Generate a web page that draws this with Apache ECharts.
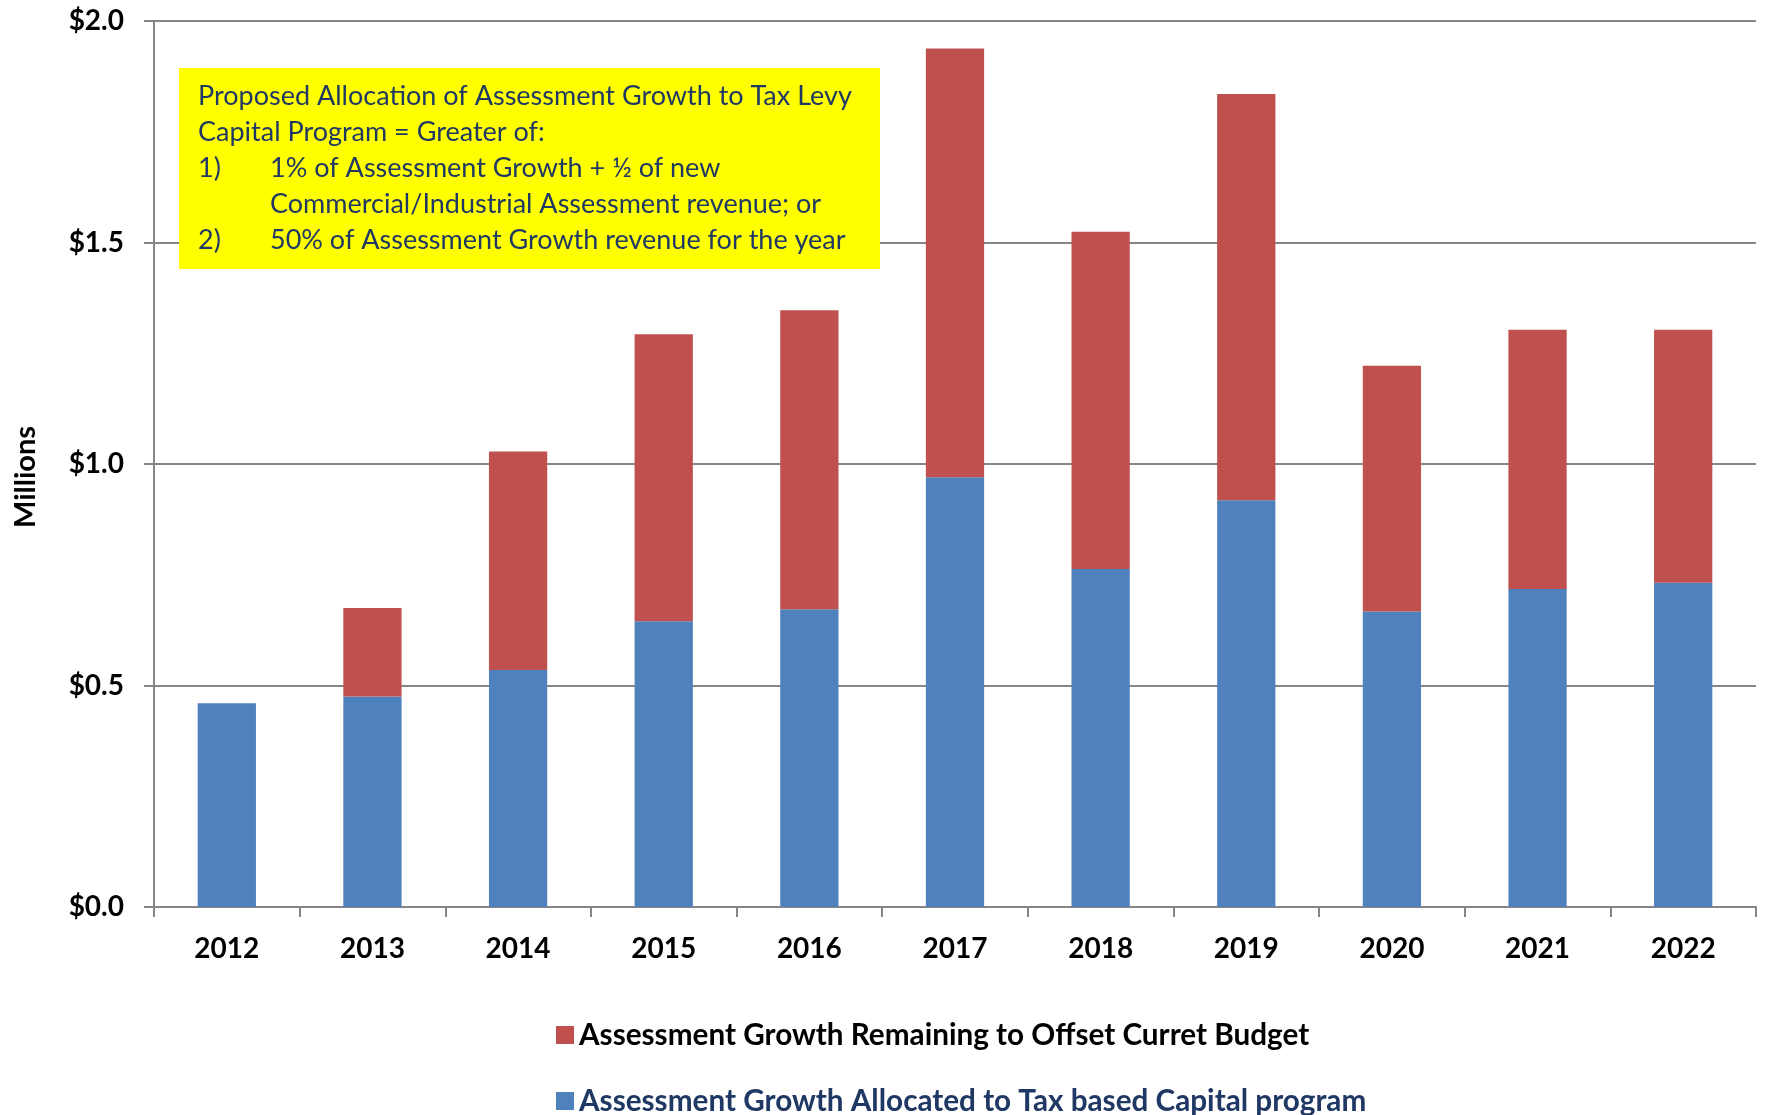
<!DOCTYPE html>
<html>
<head>
<meta charset="utf-8">
<title>Assessment Growth Allocation</title>
<script src="https://cdn.jsdelivr.net/npm/echarts@6/dist/echarts.min.js"></script>
<style>
  html, body { margin: 0; padding: 0; background: #ffffff; }
  #chart { width: 1767px; height: 1115px; }
</style>
</head>
<body>
<div id="chart"></div>
<script>
// Budget years on the category axis
const years = ['2012', '2013', '2014', '2015', '2016', '2017', '2018', '2019', '2020', '2021', '2022'];

// Assessment growth allocated to the tax-based capital program ($ millions)
const allocatedToCapital = [0.46, 0.475, 0.535, 0.645, 0.672, 0.97, 0.763, 0.918, 0.667, 0.718, 0.732];

// Assessment growth remaining to offset the current budget ($ millions)
const remainingToBudget = [0, 0.2, 0.493, 0.648, 0.675, 0.968, 0.761, 0.917, 0.555, 0.585, 0.571];

// Value-axis tick labels, from 0 to 2 in steps of 0.5
const yTickLabels = ['$0.0', '$0.5', '$1.0', '$1.5', '$2.0'];

// Series names as shown in the legend
const nameRemaining = 'Assessment Growth Remaining to Offset Curret Budget';
const nameAllocated = 'Assessment Growth Allocated to Tax based Capital program';

// Policy note shown in the highlighted box
const noteLines = [
  ['Proposed Allocation of Assessment Growth to Tax Levy', ''],
  ['Capital Program = Greater of:', ''],
  ['1)', '1% of Assessment Growth + \u00BD of new'],
  ['', 'Commercial/Industrial Assessment revenue; or'],
  ['2)', '50% of Assessment Growth revenue for the year']
];

const FONT = 'Lato, "Open Sans", sans-serif';
const AXIS_GREY = '#868686';
const NAVY = '#1F3864';

const chart = echarts.init(document.getElementById('chart'), null, { renderer: 'canvas' });

// Annotation box: yellow panel with the note text
const noteGraphics = [{
  type: 'rect',
  shape: { x: 179, y: 68, width: 701, height: 201 },
  style: { fill: '#FFFF00' },
  z: 10
}];
noteLines.forEach(function (line, i) {
  const y = 96 + i * 36;
  if (line[0]) {
    noteGraphics.push({
      type: 'text', x: 198, y: y, z: 11,
      style: { text: line[0], font: '27px ' + FONT, fill: NAVY, textVerticalAlign: 'middle' }
    });
  }
  if (line[1]) {
    noteGraphics.push({
      type: 'text', x: 270, y: y, z: 11,
      style: { text: line[1], font: '27px ' + FONT, fill: NAVY, textVerticalAlign: 'middle' }
    });
  }
});

// One legend block per row, stacked under the plot
function legendRow(name, color, top) {
  return {
    orient: 'horizontal',
    left: 551,
    top: top,
    itemWidth: 18,
    itemHeight: 18,
    icon: 'rect',
    selectedMode: false,
    textStyle: { fontFamily: FONT, fontWeight: 'bold', fontSize: 29.7, lineHeight: 30, color: color },
    data: [name]
  };
}

chart.setOption({
  animation: false,
  backgroundColor: '#ffffff',
  grid: { left: 154, right: 11, top: 21, bottom: 208, containLabel: false, outerBoundsMode: 'none' },
  legend: [
    legendRow(nameRemaining, '#000000', 1015),
    legendRow(nameAllocated, NAVY, 1081)
  ],
  xAxis: {
    type: 'category',
    data: years,
    axisLine: { lineStyle: { color: AXIS_GREY, width: 2 } },
    axisTick: { show: true, length: 10, inside: false, alignWithLabel: false, lineStyle: { color: AXIS_GREY, width: 2 } },
    axisLabel: { margin: 28, fontFamily: FONT, fontWeight: 'bold', fontSize: 28, color: '#000000' },
    splitLine: { show: false }
  },
  yAxis: {
    type: 'value',
    min: 0,
    max: 2,
    interval: 0.5,
    name: 'Millions',
    nameLocation: 'middle',
    nameRotate: 90,
    nameGap: 114,
    // right padding nudges the rotated title slightly below the axis midpoint
    nameTextStyle: { fontFamily: FONT, fontWeight: 'bold', fontSize: 29, color: '#000000', padding: [0, 26, 0, 0] },
    axisLine: { show: true, lineStyle: { color: AXIS_GREY, width: 2 } },
    axisTick: { show: true, length: 10, inside: false, lineStyle: { color: AXIS_GREY, width: 2 } },
    axisLabel: {
      margin: 30,
      fontFamily: FONT, fontWeight: 'bold', fontSize: 28, color: '#000000',
      formatter: function (v) { return yTickLabels[Math.round(v / 0.5)]; }
    },
    splitLine: { show: true, lineStyle: { color: AXIS_GREY, width: 2 } }
  },
  series: [
    {
      name: nameAllocated,
      type: 'bar',
      stack: 'growth',
      data: allocatedToCapital,
      barWidth: '40%',
      itemStyle: { color: '#4F81BD' }
    },
    {
      name: nameRemaining,
      type: 'bar',
      stack: 'growth',
      data: remainingToBudget,
      barWidth: '40%',
      itemStyle: { color: '#C0504D' }
    }
  ],
  graphic: noteGraphics
});
</script>
</body>
</html>
